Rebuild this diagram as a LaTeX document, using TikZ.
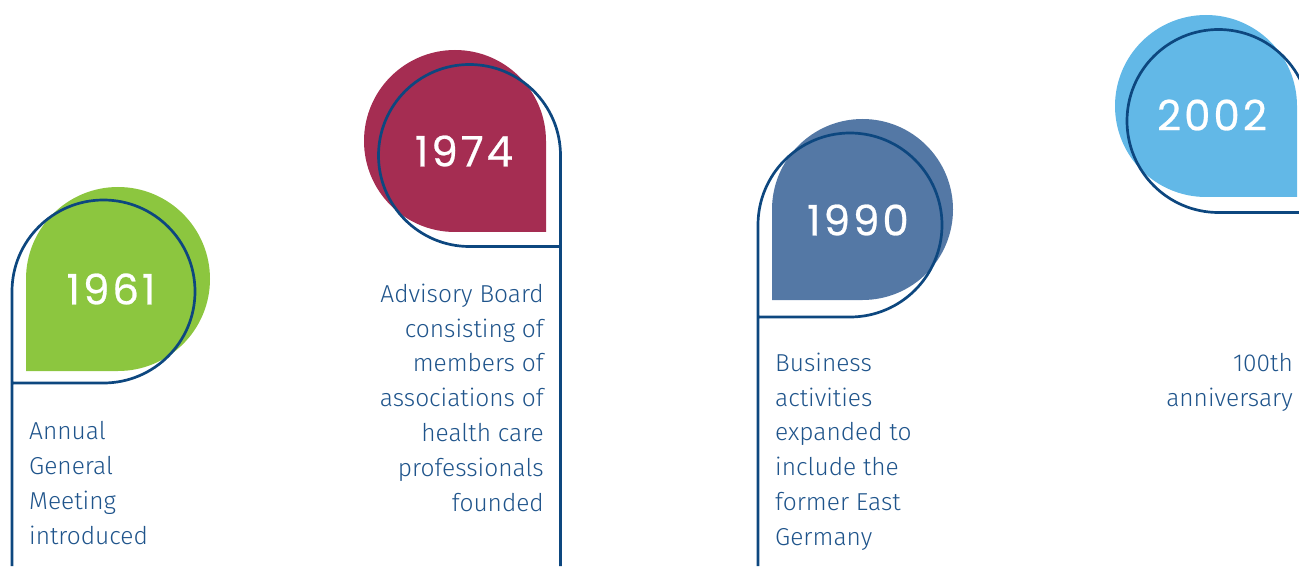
\documentclass[tikz,border=0pt]{standalone}
\usepackage{fontspec}
\setmainfont{Fira Sans Light}
\newfontfamily\yearfont{Poppins}[LetterSpace=7, FakeBold=0.6]
\definecolor{cgreen}{HTML}{8CC63F}
\definecolor{ccrimson}{HTML}{A52D52}
\definecolor{cblue}{HTML}{5478A5}
\definecolor{clight}{HTML}{62B8E7}
\definecolor{cline}{HTML}{0D477F}
\definecolor{ctext}{HTML}{1F548B}
\tikzset{
  outline/.style={draw=cline, line width=2.7pt, line join=round},
  year/.style={text=white, font=\yearfont\fontsize{42}{42}\selectfont, inner sep=0pt},
  desc/.style={text=ctext, font=\fontsize{24.5}{34.9}\selectfont, inner sep=0pt},
}
\begin{document}
\begin{tikzpicture}[x=1pt,y=1pt]
\useasboundingbox (0,0) rectangle (1299,566);
\clip (0,0) rectangle (1299,566);
% 1961 (square corner bottom-left)
\fill[cgreen] (26,287) -- (26,195) -- (118,195) arc[start angle=-90, end angle=180, radius=92] -- cycle;
\draw[outline] (12,0) -- (12,274.5) arc[start angle=180, end angle=-90, radius=91.5] -- (12,183);
% 1974 (square corner bottom-right)
\fill[ccrimson] (546,425) -- (546,334) -- (455,334) arc[start angle=270, end angle=0, radius=91] -- cycle;
\draw[outline] (560.5,0) -- (560.5,410.5) arc[start angle=0, end angle=270, radius=91] -- (560.5,319.5);
% 1990 (square corner bottom-left)
\fill[cblue] (772,356.5) -- (772,266) -- (862.5,266) arc[start angle=-90, end angle=180, radius=90.5] -- cycle;
\draw[outline] (758,0) -- (758,341) arc[start angle=180, end angle=-90, radius=92] -- (758,249);
% 2002 (square corner bottom-right)
\fill[clight] (1297,460) -- (1297,369) -- (1206,369) arc[start angle=270, end angle=0, radius=91] -- cycle;
\draw[outline] (1310,445) arc[start angle=0, end angle=270, radius=91.5] -- (1310,353.5);
% years
\node[year] (y1961) at (111,277) {1961};
\node[year] (y1974) at (464,415) {1974};
\node[year] (y1990) at (858,346) {1990};
\node[year] (y2002) at (1212,451) {2002};
% descriptions
\node[desc, anchor=north west, align=left] (d1961) at (29,144.5) {Annual\\General\\Meeting\\introduced};
\node[desc, anchor=north east, align=right] (d1974) at (544,282.5) {Advisory Board\\consisting of\\members of\\associations of\\health care\\professionals\\founded};
\node[desc, anchor=north west, align=left] (d1990) at (775,213.5) {Business\\activities\\expanded to\\include the\\former East\\Germany};
\node[desc, anchor=north east, align=right] (d2002) at (1293,212.5) {100th\\anniversary};
\end{tikzpicture}
\end{document}
